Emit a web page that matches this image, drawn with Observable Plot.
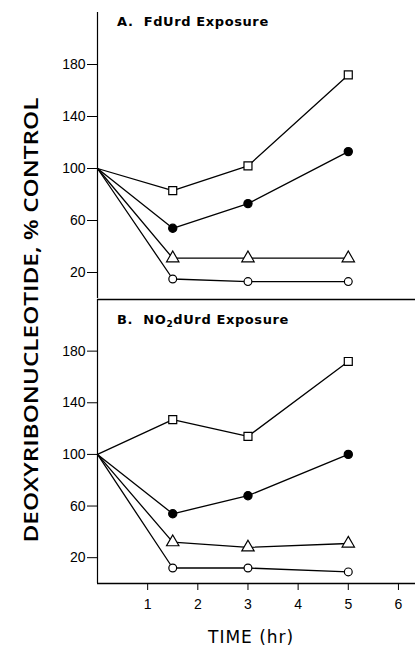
<!DOCTYPE html>
<html><head><meta charset="utf-8">
<script src="https://cdn.jsdelivr.net/npm/d3@7"></script>
<script src="https://cdn.jsdelivr.net/npm/@observablehq/plot@0.6"></script>
<style>
body{margin:0;background:#fff;}
#wrap{position:relative;width:415px;height:647px;overflow:hidden;background:#fff;}
#wrap > svg{position:absolute;left:0;}
#overlay{position:absolute;left:0;top:0;pointer-events:none;}
</style></head><body><div id="wrap"></div>
<script>
// ---- data ----
const times = [0, 1.5, 3, 5];
const seriesNames = ["square", "filled", "triangle", "circle"];
const panelA_square   = [100, 83, 102, 172];
const panelA_filled   = [100, 54, 73, 113];
const panelA_triangle = [100, 31, 31, 31];
const panelA_circle   = [100, 15, 13, 13];
const panelB_square   = [100, 127, 114, 172];
const panelB_filled   = [100, 54, 68, 100];
const panelB_triangle = [100, 32, 28, 31];
const panelB_circle   = [100, 12, 12, 9];
const yTicks = [20, 60, 100, 140, 180];
const xTicks = [1, 2, 3, 4, 5, 6];
const yDomain = [0, 220];
const xDomain = [0, 6.34];
const titleA = "A.  FdUrd Exposure";
const titleB = ["B.  NO", "2", "dUrd Exposure"];
const yLabel = "DEOXYRIBONUCLEOTIDE, % CONTROL";
const xLabel = "TIME (hr)";

function rowsFor(arrs) {
  const rows = [];
  seriesNames.forEach((s, k) => times.forEach((t, i) => rows.push({series: s, time: t, value: arrs[k][i]})));
  return rows;
}
const rowsA = rowsFor([panelA_square, panelA_filled, panelA_triangle, panelA_circle]);
const rowsB = rowsFor([panelB_square, panelB_filled, panelB_triangle, panelB_circle]);

const symbolStyle = {
  square:   {symbol: "square",   fill: "white", r: 4.5},
  filled:   {symbol: "circle",   fill: "black", r: 4.1},
  triangle: {symbol: "triangle", fill: "white", r: 4.6},
  circle:   {symbol: "circle",   fill: "white", r: 3.9}
};

function panel(rows, {height, marginTop, marginBottom, showX, bottomRule, topRule}) {
  const dots = seriesNames.map(s => Plot.dot(rows.filter(d => d.series === s && d.time > 0), {
    x: "time", y: "value", symbol: symbolStyle[s].symbol, r: symbolStyle[s].r,
    fill: symbolStyle[s].fill, stroke: "black", strokeWidth: 1.2
  }));
  return Plot.plot({
    width: 415, height, marginLeft: 97, marginRight: 0, marginTop, marginBottom,
    style: {fontFamily: "'Liberation Sans', sans-serif", fontSize: "14px", color: "black", background: "transparent"},
    x: {domain: xDomain, ticks: xTicks, tickFormat: d3.format("d"), tickSize: 7, tickPadding: 9, label: null, axis: showX ? "bottom" : null},
    y: {domain: yDomain, ticks: yTicks, tickSize: 10, tickPadding: 2, label: null},
    marks: [
      Plot.ruleX([0], {stroke: "black", strokeWidth: 1.2}),
      bottomRule ? Plot.ruleY([0], {stroke: "black", strokeWidth: 1.3}) : null,
      topRule ? Plot.ruleY([yDomain[1]], {stroke: "black", strokeWidth: 1.5}) : null,
      Plot.line(rows, {x: "time", y: "value", z: "series", stroke: "black", strokeWidth: 1.3}),
      ...dots
    ]
  });
}

const wrap = document.getElementById("wrap");
const pA = panel(rowsA, {height: 300, marginTop: 12, marginBottom: 2, showX: false, bottomRule: false, topRule: false});
pA.style.top = "0px";
wrap.appendChild(pA);
const pB = panel(rowsB, {height: 350, marginTop: 2, marginBottom: 64, showX: true, bottomRule: true, topRule: true});
pB.style.top = "297px";
wrap.appendChild(pB);

// overlay text
const ov = d3.select(wrap).append("svg").attr("id", "overlay").attr("width", 415).attr("height", 647);
ov.append("text").attr("transform", "translate(38,320) rotate(-90)")
  .attr("text-anchor", "middle").attr("font-family", "'Open Sans', sans-serif")
  .attr("font-weight", 600).attr("font-size", 20.5)
  .attr("textLength", 445).attr("lengthAdjust", "spacingAndGlyphs").text(yLabel);
ov.append("text").attr("x", 117).attr("y", 26).attr("font-family", "'DejaVu Sans', sans-serif")
  .attr("font-weight", "bold").attr("font-size", 13).attr("letter-spacing", 0.6)
  .style("white-space", "pre").text(titleA);
const tb = ov.append("text").attr("x", 117).attr("y", 324).attr("font-family", "'DejaVu Sans', sans-serif")
  .attr("font-weight", "bold").attr("font-size", 13).attr("letter-spacing", 0.6).style("white-space", "pre");
tb.append("tspan").text(titleB[0]);
tb.append("tspan").attr("font-size", 9).attr("dy", 3).text(titleB[1]);
tb.append("tspan").attr("dy", -3).text(titleB[2]);
ov.append("text").attr("x", 208).attr("y", 643).attr("font-family", "'DejaVu Sans', sans-serif")
  .attr("font-size", 17).attr("letter-spacing", 1).text(xLabel);
</script></body></html>
